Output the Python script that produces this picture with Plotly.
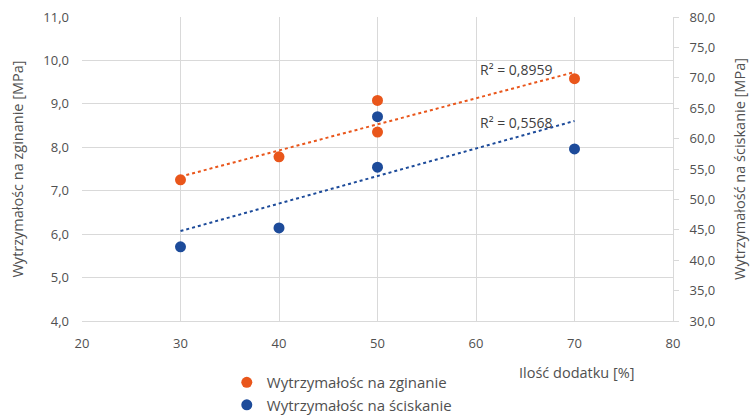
import numpy as np
import plotly.graph_objects as go

# Data
x_vals = [30, 40, 50, 50, 70]
zginanie = [7.25, 7.78, 9.08, 8.35, 9.58]       # MPa, left axis
sciskanie = [42.2, 45.3, 63.6, 55.3, 58.3]      # MPa, right axis
name_z = "Wytrzymałośc na zginanie"
name_s = "Wytrzymałośc na ściskanie"
r2_z = "R² = 0,8959"
r2_s = "R² = 0,5568"

c_or = "#E9561B"
c_bl = "#1D4B9A"
txt = "#505050"

def trend(x, y):
    p = np.polyfit(x, y, 1)
    xs = [min(x), max(x)]
    return xs, [p[0] * v + p[1] for v in xs]

tzx, tzy = trend(x_vals, zginanie)
tsx, tsy = trend(x_vals, sciskanie)

fig = go.Figure()
fig.add_trace(go.Scatter(x=tzx, y=tzy, mode="lines", showlegend=False,
                         line=dict(color=c_or, width=2, dash="dot"), hoverinfo="skip"))
fig.add_trace(go.Scatter(x=tsx, y=tsy, mode="lines", showlegend=False, yaxis="y2",
                         line=dict(color=c_bl, width=2, dash="dot"), hoverinfo="skip"))
fig.add_trace(go.Scatter(x=x_vals, y=zginanie, mode="markers", name=name_z,
                         marker=dict(color=c_or, size=11)))
fig.add_trace(go.Scatter(x=x_vals, y=sciskanie, mode="markers", name=name_s,
                         yaxis="y2", marker=dict(color=c_bl, size=11)))

fig.add_annotation(x=64.1, y=9.78, xref="x", yref="y", text=r2_z, showarrow=False,
                   font=dict(size=14, color="#404040"))
fig.add_annotation(x=64.1, y=8.56, xref="x", yref="y", text=r2_s, showarrow=False,
                   font=dict(size=14, color="#404040"))
fig.add_annotation(x=0.838, y=-0.17, xref="paper", yref="paper", xanchor="center",
                   yanchor="middle", text="Ilość dodatku [%]",
                   showarrow=False, font=dict(size=14.5, color=txt))

fig.update_layout(
    width=755, height=415,
    margin=dict(l=82, r=82, t=17, b=94),
    paper_bgcolor="white", plot_bgcolor="white",
    separators=", ",
    font=dict(family="Open Sans", size=13, color=txt),
    xaxis=dict(range=[20, 80], dtick=10, tick0=20, showgrid=True, gridcolor="#d9d9d9",
               gridwidth=1, showline=True, linecolor="#d9d9d9", zeroline=False,
               automargin=False,
               ticklabelstandoff=10, tickfont=dict(size=13, color=txt)),
    yaxis=dict(range=[4, 11], dtick=1, tick0=4, tickformat=".1f", showgrid=True,
               gridcolor="#d9d9d9", zeroline=False, showline=False, automargin=False,
               ticklabelstandoff=12, tickfont=dict(size=13, color=txt),
               title=dict(text="Wytrzymałośc na zginanie [MPa]", font=dict(size=14.5, color=txt),
                          standoff=16)),
    yaxis2=dict(range=[30, 80], dtick=5, tick0=30, tickformat=".1f", overlaying="y",
                side="right", showgrid=False, zeroline=False, showline=True, automargin=False,
                linecolor="#d9d9d9", ticks="outside", ticklen=5, tickcolor="#d9d9d9",
                ticklabelstandoff=8, tickfont=dict(size=13, color=txt),
                title=dict(text="Wytrzymałość na ściskanie [MPa]", font=dict(size=14.5, color=txt),
                           standoff=20)),
    legend=dict(x=0.245, y=0.118, xref="paper", yref="container",
                xanchor="left", yanchor="top", orientation="v",
                font=dict(size=15, color=txt), bgcolor="rgba(0,0,0,0)"),
)

fig.write_html("out.html")
